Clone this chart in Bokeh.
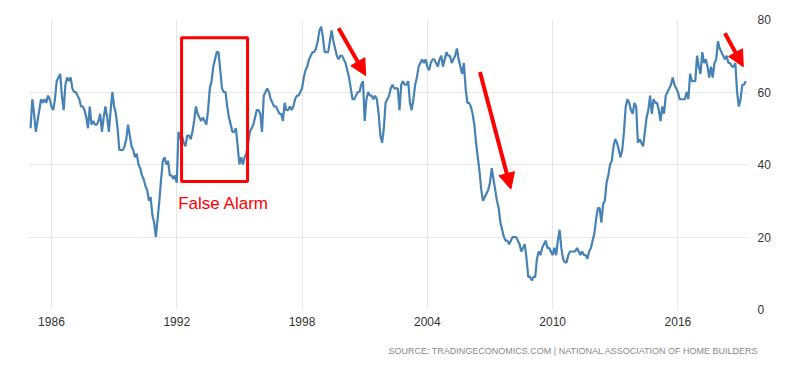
from bokeh.plotting import figure
from bokeh.models import FixedTicker, BoxAnnotation, Arrow, NormalHead, Label, Title, ColumnDataSource
from bokeh.embed import file_html
from bokeh.resources import INLINE

# Monthly NAHB housing market index, Jan 1985 - Apr 2019
start_year = 1985
v1985 = [50, 58, 54, 49, 52, 55, 58, 57, 58, 57, 59, 58]
v1986 = [56, 55, 58, 63, 64, 65, 59, 55, 62, 64, 63, 64]
v1987 = [61, 60, 60, 59, 58, 56, 56, 55, 53, 50, 56, 51]
v1988 = [52, 51, 51, 52, 54, 49, 53, 56, 53, 49, 55, 60]
v1989 = [56, 54, 50, 44, 44, 44, 45, 47, 51, 48, 45, 44]
v1990 = [42, 43, 40, 39, 37, 36, 34, 33, 30, 31, 26, 24]
v1991 = [20, 25, 30, 36, 41, 42, 40, 41, 37, 37, 36, 37]
v1992 = [35, 49, 47, 48, 46, 45, 48, 48, 47, 49, 52, 56]
v1993 = [54, 53, 52, 53, 52, 51, 55, 61, 63, 67, 69, 71]
v1994 = [71, 66, 61, 60, 60, 56, 53, 51, 49, 49, 50, 45]
v1995 = [40, 42, 40, 42, 43, 46, 49, 50, 51, 53, 55, 55]
v1996 = [54, 49, 59, 60, 61, 60, 58, 57, 56, 56, 55, 54]
v1997 = [54, 52, 57, 55, 55, 56, 55, 56, 58, 59, 59, 60]
v1998 = [61, 64, 66, 67, 69, 70, 71, 71, 72, 74, 77, 78]
v1999 = [75, 71, 71, 71, 74, 77, 74, 72, 70, 69, 70, 70]
v2000 = [69, 68, 66, 64, 61, 58, 58, 59, 60, 60, 62, 63]
v2001 = [52, 58, 60, 59, 59, 58, 59, 58, 54, 48, 46, 50]
v2002 = [57, 58, 59, 61, 62, 61, 61, 61, 55, 62, 63, 62]
v2003 = [62, 63, 57, 55, 58, 62, 64, 67, 68, 69, 68, 69]
v2004 = [67, 66, 68, 69, 69, 68, 67, 69, 70, 67, 69, 71]
v2005 = [70, 70, 68, 69, 70, 72, 69, 67, 65, 68, 61, 57]
v2006 = [57, 56, 54, 51, 46, 42, 38, 33, 30, 31, 32, 33]
v2007 = [35, 39, 36, 33, 30, 28, 24, 22, 20, 19, 19, 18]
v2008 = [19, 20, 20, 20, 19, 18, 16, 17, 18, 14, 9, 9]
v2009 = [8, 9, 9, 14, 16, 15, 17, 18, 19, 17, 17, 16]
v2010 = [15, 17, 15, 19, 22, 17, 14, 13, 13, 15, 16, 16]
v2011 = [16, 16, 17, 16, 15, 16, 15, 15, 14, 16, 17, 19]
v2012 = [21, 25, 28, 28, 24, 29, 30, 35, 37, 40, 41, 45]
v2013 = [47, 46, 44, 42, 44, 49, 56, 58, 57, 55, 54, 57]
v2014 = [56, 46, 47, 46, 45, 49, 53, 55, 59, 54, 58, 57]
v2015 = [57, 55, 52, 56, 54, 59, 60, 61, 62, 64, 62, 61]
v2016 = [60, 58, 58, 58, 58, 60, 58, 65, 63, 63, 63, 70]
v2017 = [67, 65, 71, 68, 69, 67, 64, 67, 64, 68, 69, 74]
v2018 = [72, 71, 70, 69, 70, 68, 68, 67, 67, 68, 60, 56]
v2019 = [58, 62, 62, 63]

values = (v1985 + v1986 + v1987 + v1988 + v1989 + v1990 + v1991 + v1992 + v1993 + v1994
          + v1995 + v1996 + v1997 + v1998 + v1999 + v2000 + v2001 + v2002 + v2003 + v2004
          + v2005 + v2006 + v2007 + v2008 + v2009 + v2010 + v2011 + v2012 + v2013 + v2014
          + v2015 + v2016 + v2017 + v2018 + v2019)
dates = [start_year + i / 12 for i in range(len(values))]

x_ticks = [1986, 1992, 1998, 2004, 2010, 2016]
y_ticks = [0, 20, 40, 60, 80]

# annotations (data coordinates)
box_left, box_right, box_bottom, box_top = 1992.23, 1995.39, 35.3, 75.0
label_text = "False Alarm"
label_x, label_y = 1992.07, 29.2
arrows = [
    (1999.75, 77.6, 2001.05, 64.5),
    (2006.52, 65.5, 2008.0, 33.2),
    (2018.25, 76.2, 2019.13, 67.0),
]
source_text = "SOURCE: TRADINGECONOMICS.COM  |  NATIONAL ASSOCIATION OF HOME BUILDERS"

p = figure(width=798, height=370, output_backend="svg", toolbar_location=None,
           x_range=(1984.90, 2019.38), y_range=(0, 80), y_axis_location="right",
           min_border_left=28, min_border_right=50, min_border_top=19, min_border_bottom=61)
p.outline_line_color = None
p.background_fill_color = "white"

src = ColumnDataSource(dict(x=dates, y=values))
p.line("x", "y", source=src, line_color="#4682b4", line_width=2.2)

for ax in (p.xaxis, p.yaxis):
    ax.axis_line_color = None
    ax.major_tick_line_color = None
    ax.minor_tick_line_color = None
    ax.major_label_text_font = "Liberation Sans"
    ax.major_label_text_font_size = "12px"
    ax.major_label_text_color = "#333333"
p.xaxis.ticker = FixedTicker(ticks=x_ticks)
p.yaxis.ticker = FixedTicker(ticks=y_ticks)
p.xaxis.major_label_standoff = 1
p.yaxis.major_label_standoff = 3

p.xgrid.ticker = FixedTicker(ticks=x_ticks)
p.ygrid.ticker = FixedTicker(ticks=y_ticks)
for g in (p.xgrid, p.ygrid):
    g.grid_line_color = "#d0d0d0"
    g.grid_line_dash = "1 1"
    g.grid_line_width = 1

p.add_layout(BoxAnnotation(left=box_left, right=box_right, bottom=box_bottom, top=box_top,
                           fill_alpha=0, line_color="#ff0000", line_alpha=1.0, line_width=3,
                           level="overlay"))
p.add_layout(Label(x=label_x, y=label_y, text=label_text, text_color="#ff0000",
                   text_font="Liberation Sans", text_font_size="17px", text_baseline="middle"))
for (xs, ys, xe, ye) in arrows:
    p.add_layout(Arrow(x_start=xs, y_start=ys, x_end=xe, y_end=ye, line_color="#ff0000", line_width=4,
                       end=NormalHead(size=16, fill_color="#ff0000", line_color="#ff0000")))

p.add_layout(Title(text=source_text, align="right", text_font="Liberation Sans", text_font_size="9px",
                   text_color="#8a8a8a", text_font_style="normal", offset=-15, standoff=30), "below")

open("out.html", "w").write(file_html(p, INLINE))
